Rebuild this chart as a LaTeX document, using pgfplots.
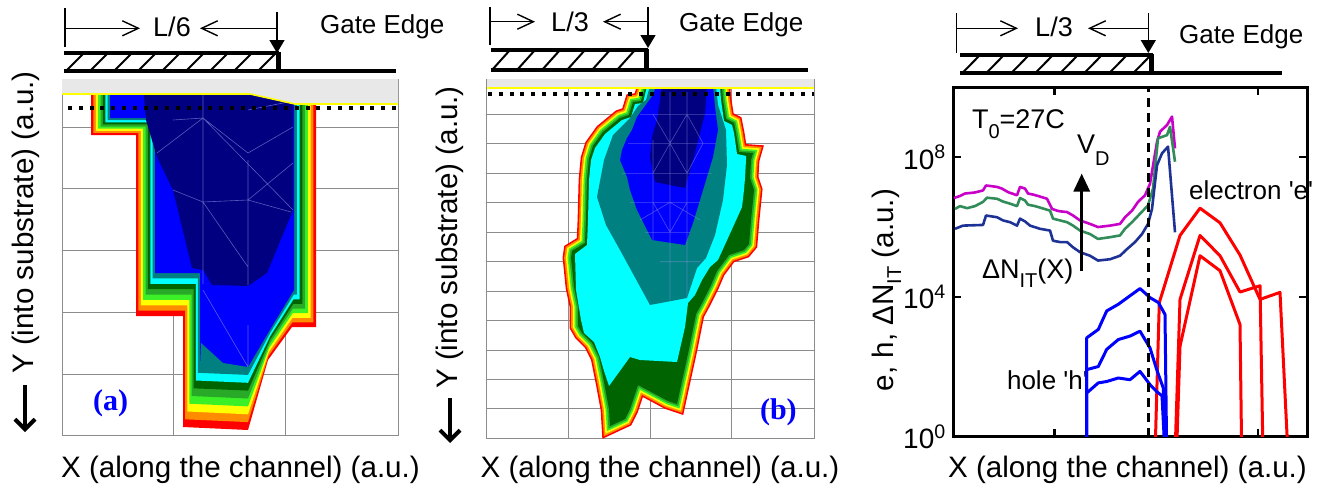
\documentclass[border=0pt]{standalone}
\usepackage{fontspec}
\setmainfont{Liberation Sans}
\newfontfamily\panelfont{Liberation Serif}
\usepackage{pgfplots}
\usepackage{pgfplotstable}
\pgfplotsset{compat=1.18}
\usetikzlibrary{arrows.meta}

\newcommand\fs[1]{\fontsize{#1}{#1}\selectfont}
\newcommand\lsub[2][5pt]{\raisebox{-#1}{\fs{10}#2}}

\definecolor{cRed}{RGB}{255,0,0}
\definecolor{cOrange}{RGB}{255,140,0}
\definecolor{cYellow}{RGB}{255,255,0}
\definecolor{cLime}{RGB}{60,240,40}
\definecolor{cGreen}{RGB}{40,170,40}
\definecolor{cDkGreen}{RGB}{0,100,0}
\definecolor{cCyan}{RGB}{0,255,255}
\definecolor{cTeal}{RGB}{0,128,128}
\definecolor{cBlue}{RGB}{0,0,255}
\definecolor{cNavy}{RGB}{0,0,128}
\definecolor{oxide}{RGB}{232,232,232}
\definecolor{gridc}{RGB}{140,140,140}
\definecolor{meshc}{RGB}{150,150,230}
\definecolor{nitM}{RGB}{200,0,200}
\definecolor{nitG}{RGB}{50,140,90}
\definecolor{nitB}{RGB}{30,50,150}
\definecolor{holeB}{RGB}{0,0,255}

% outer boundary of the dark-green level in panel (b)
\pgfplotstableread{
x y
645 88.5
641 101
633 102
629 115
620 118
603 132
593 146
589 159
587 180
586 220
585 243
572 251
571 258
572 267
574 287
578 306
578 326
582 333
592 343
599 357
604 382
609 409
610 426
625 419
630 409
638 385
655 394
668 401
677 404
682 381
689 349
696 314
702 303
711 285
717 271
729 255
744 250
749 244
751 220
754 190
750 178
751 160
753 153
739 152
736 133
734 123
726 119
723 100
722 88.5
}\levelQ

\begin{document}
\begin{tikzpicture}
\useasboundingbox (0,0) rectangle (660.5pt,243.5pt);
\begin{axis}[at={(0,0)}, anchor=south west, scale only axis,
  width=660.5pt, height=243.5pt, xmin=0, xmax=1321, ymin=0, ymax=487,
  y dir=reverse, hide axis, clip=false, no markers,
  every axis plot/.append style={line join=miter}]

% ---------------- panel (a): mesh frame
\addplot[gridc, line width=0.5pt] coordinates {(62,79)(62,435)(398,435)(398,79)};
\addplot[gridc, line width=0.5pt, unbounded coords=jump] coordinates {
 (62,127)(398,127) (nan,nan) (62,188)(398,188) (nan,nan) (62,250)(398,250)
 (nan,nan) (62,312)(398,312) (nan,nan) (62,374)(398,374)
 (nan,nan) (173,79)(173,435) (nan,nan) (285,79)(285,435)};

% ---------------- panel (a): contour levels, outermost first
\addplot[fill=cRed, draw=none] coordinates {(91,85)(91,135)(136,135)(136,316)(183,316)(183,427)(248,430)(268,360)(292,327)(316,327)(316,85)} --cycle;
\addplot[fill=cOrange, draw=none] coordinates {(93.4,85)(93.4,132.9)(138.4,132.9)(138.4,310.6)(185.1,310.6)(185.1,419.3)(248,422.1)(268.4,356)(292.3,322.4)(313.3,322.4)(313.3,85)} --cycle;
\addplot[fill=cYellow, draw=none] coordinates {(95.8,85)(95.8,130.8)(140.8,130.8)(140.8,305.3)(187.3,305.3)(187.3,411.5)(248,414.3)(268.8,352)(292.5,317.8)(310.5,317.8)(310.5,85)} --cycle;
\addplot[fill=cLime, draw=none] coordinates {(98.1,85)(98.1,128.6)(143.1,128.6)(143.1,299.9)(189.4,299.9)(189.4,403.7)(248,406.4)(269.1,348)(292.8,313.1)(307.8,313.1)(307.8,85)} --cycle;
\addplot[fill=cGreen, draw=none] coordinates {(100.5,85)(100.5,126.5)(145.5,126.5)(145.5,294.5)(191.5,294.5)(191.5,396)(248,398.5)(269.5,344)(293,308.5)(305,308.5)(305,85)} --cycle;
\addplot[fill=cDkGreen, draw=none] coordinates {(102.9,85)(102.9,124.4)(147.9,124.4)(147.9,289.1)(193.6,289.1)(193.6,388.3)(248,390.6)(269.9,340)(293.3,303.9)(302.3,303.9)(302.3,85)} --cycle;
\addplot[fill=cCyan, draw=none] coordinates {(105.3,85)(105.3,122.3)(150.3,122.3)(150.3,283.8)(195.8,283.8)(195.8,380.5)(248,382.8)(270.3,336)(293.5,299.3)(299.5,299.3)(299.5,85)} --cycle;
\addplot[fill=cTeal, draw=none] coordinates {(107.6,85)(107.6,120.1)(152.6,120.1)(152.6,278.4)(197.9,278.4)(197.9,372.8)(248,374.9)(270.6,332)(293.8,294.6)(296.8,294.6)(296.8,85)} --cycle;
\addplot[fill=cBlue, draw=none] coordinates {(110,85)(110,118)(155,118)(155,273)(200,273)(200,365)(248,367)(271,328)(294,290)(294,85)} --cycle;
\addplot[fill=cTeal, draw=none] coordinates {(201,343)(223,363)(248,367)(200,367)} --cycle;
\addplot[fill=cNavy, draw=none] coordinates {(143,85)(146,120)(157,157)(173,190)(192,268)(203,270)(212,285)(248,286)(267,273)(293,210)(293,85)} --cycle;
% simulation mesh showing through
\addplot[meshc, line width=0.3pt, opacity=0.6, unbounded coords=jump] coordinates {
 (203,95)(203,284) (nan,nan) (248,160)(248,285) (nan,nan) (248,325)(248,366) (nan,nan)
 (157,153)(203,118)(248,153)(293,127) (nan,nan) (173,190)(203,202)(248,200)(293,163) (nan,nan)
 (203,202)(248,267) (nan,nan) (248,200)(291,212) (nan,nan) (203,118)(293,210) (nan,nan)
 (248,110)(293,101) (nan,nan) (203,290)(248,367) (nan,nan) (173,120)(203,118)};

% oxide layer, interface and channel depth marker
\addplot[fill=oxide, draw=none] coordinates {(62,79)(398,79)(398,104)(295,104)(250,94)(62,94)} --cycle;
\addplot[cYellow, line width=0.8pt] coordinates {(62,94)(250,94)(295,104)(398,104)};
\addplot[black, line width=2pt, dash pattern=on 2pt off 3.4pt] coordinates {(68,108)(400,108)};

% ---------------- panel (b): mesh frame
\addplot[gridc, line width=0.5pt] coordinates {(486.7,79)(486.7,438)(814,438)(814,79)};
\addplot[gridc, line width=0.5pt, unbounded coords=jump] coordinates {
 (486.7,114.3)(814,114.3) (nan,nan) (486.7,143.3)(814,143.3) (nan,nan)
 (486.7,173.3)(814,173.3) (nan,nan) (486.7,202.3)(814,202.3) (nan,nan)
 (486.7,232.3)(814,232.3) (nan,nan) (486.7,261.7)(814,261.7) (nan,nan)
 (486.7,291)(814,291) (nan,nan) (486.7,320.7)(814,320.7) (nan,nan)
 (486.7,350)(814,350) (nan,nan) (486.7,379.3)(814,379.3) (nan,nan)
 (486.7,408.7)(814,408.7) (nan,nan)
 (568.3,79)(568.3,438) (nan,nan) (650,79)(650,438) (nan,nan) (731.7,79)(731.7,438)};

% ---------------- panel (b): thin outer levels as nested outlines
\addplot[draw=cRed, line width=8.4pt] table {\levelQ} --cycle;
\addplot[draw=cOrange, line width=6.8pt] table {\levelQ} --cycle;
\addplot[draw=cYellow, line width=5.1pt] table {\levelQ} --cycle;
\addplot[draw=cLime, line width=3.4pt] table {\levelQ} --cycle;
\addplot[draw=cGreen, line width=1.7pt] table {\levelQ} --cycle;
\addplot[fill=cDkGreen, draw=none] table {\levelQ} --cycle;
% inner levels
\addplot[fill=cCyan, draw=none] coordinates {(647,86)(643,103)(635,104)(631,117)(622,120)(605,134)(595,148)(591,160)(589,180)(588,220)(587,245)(575,254)(576,290)(581,320)(584,333)(594,342)(600,357)(604,371)(609,386)(630,357)(640,360)(677,362)(685,327)(688,303)(695,295)(702,280)(710,267)(718,260)(733,227)(742,207)(744,190)(745,178)(746,160)(746,156)(737,154)(734,133)(732,125)(724,121)(721,100)(720,86)} --cycle;
\addplot[fill=cTeal, draw=none] coordinates {(650,86)(646,100)(638,106)(630,118)(613,135)(604,160)(597,197)(606,225)(620,250)(650,305)(687,298)(697,268)(706,258)(715,235)(723,200)(727,165)(726,130)(718,105)(716,86)} --cycle;
\addplot[fill=cBlue, draw=none] coordinates {(656,86)(653,95)(645,106)(637,117)(632,130)(627,138)(622,150)(620,160)(627,177)(630,190)(637,210)(652,240)(685,245)(693,223)(703,190)(713,157)(718,130)(715,107)(713,86)} --cycle;
\addplot[fill=cNavy, draw=none] coordinates {(662,86)(660,100)(657,120)(652,137)(650,157)(655,182)(685,188)(693,160)(700,133)(705,113)(707,86)} --cycle;
% simulation mesh showing through
\addplot[meshc, line width=0.3pt, opacity=0.5, unbounded coords=jump] coordinates {
 (670,92)(670,300) (nan,nan) (687,92)(687,298) (nan,nan) (653,140)(653,240) (nan,nan)
 (640,114.3)(716,114.3) (nan,nan) (628,143.3)(716,143.3) (nan,nan) (622,173.3)(712,173.3) (nan,nan)
 (630,202.3)(700,202.3) (nan,nan) (645,232.3)(690,232.3) (nan,nan) (660,261.7)(700,261.7) (nan,nan)
 (653,114.3)(670,143.3)(687,114.3)(703,143.3) (nan,nan) (653,173.3)(670,143.3)(687,173.3)(703,143.3)
 (nan,nan) (653,202.3)(670,232.3)(687,202.3) (nan,nan) (640,220)(670,202.3)(700,220)};

\addplot[fill=oxide, draw=none] coordinates {(486.7,79)(814,79)(814,88)(486.7,88)} --cycle;
\addplot[cYellow, line width=0.8pt] coordinates {(486.7,88)(814,88)};
\addplot[black, line width=2pt, dash pattern=on 2pt off 3.4pt] coordinates {(488,94)(814,94)};

% ---------------- gate schematics
% (a)
\addplot[black, line width=2pt] coordinates {(64,53)(279,53)};
\addplot[black, line width=2pt] coordinates {(64,71)(396,71)};
\addplot[black, line width=2.5pt] coordinates {(278,52)(278,71)};
\addplot[black, line width=1pt, unbounded coords=jump] coordinates {
 (66,71)(84,53) (nan,nan) (90,71)(108,53) (nan,nan) (114,71)(132,53) (nan,nan)
 (138,71)(156,53) (nan,nan) (162,71)(180,53) (nan,nan) (186,71)(204,53) (nan,nan)
 (210,71)(228,53) (nan,nan) (234,71)(252,53) (nan,nan) (258,71)(276,53)};
\addplot[black, line width=0.7pt] coordinates {(65,8)(65,47)};
\addplot[black, line width=0.7pt, -{Straight Barb[length=8pt,width=7.5pt]}] coordinates {(65,28.3)(140,28.3)};
\addplot[black, line width=0.7pt, -{Straight Barb[length=8pt,width=7.5pt]}] coordinates {(277,28.3)(200,28.3)};
\addplot[black, line width=0.7pt, -{Triangle[length=6.5pt,width=7.5pt]}] coordinates {(277,12)(277,53)};
% (b)
\addplot[black, line width=2pt] coordinates {(490.7,50)(647.7,50)};
\addplot[black, line width=2pt] coordinates {(490.7,70)(807.7,70)};
\addplot[black, line width=2.5pt] coordinates {(646.7,49)(646.7,70)};
\addplot[black, line width=1pt, unbounded coords=jump] coordinates {
 (492,70)(510,50) (nan,nan) (517,70)(535,50) (nan,nan) (542,70)(560,50) (nan,nan)
 (567,70)(585,50) (nan,nan) (592,70)(610,50) (nan,nan) (617,70)(635,50)};
\addplot[black, line width=0.7pt] coordinates {(490,7)(490,45)};
\addplot[black, line width=0.7pt, -{Straight Barb[length=8pt,width=7.5pt]}] coordinates {(490,21.7)(535,21.7)};
\addplot[black, line width=0.7pt, -{Straight Barb[length=8pt,width=7.5pt]}] coordinates {(648,21.7)(603,21.7)};
\addplot[black, line width=0.7pt, -{Triangle[length=6.5pt,width=7.5pt]}] coordinates {(648,7)(648,48)};
% (c)
\addplot[black, line width=2pt] coordinates {(960,55)(1152.7,55)};
\addplot[black, line width=2pt] coordinates {(960,73.3)(1281.7,73.3)};
\addplot[black, line width=2.5pt] coordinates {(1151.7,54)(1151.7,73.3)};
\addplot[black, line width=1pt, unbounded coords=jump] coordinates {
 (962,73.3)(980,55) (nan,nan) (986,73.3)(1004,55) (nan,nan) (1011,73.3)(1029,55) (nan,nan)
 (1035,73.3)(1053,55) (nan,nan) (1060,73.3)(1078,55) (nan,nan) (1084,73.3)(1102,55) (nan,nan)
 (1109,73.3)(1127,55) (nan,nan) (1133,73.3)(1151,55)};
\addplot[black, line width=0.7pt] coordinates {(956.7,13)(956.7,53)};
\addplot[black, line width=0.7pt, -{Straight Barb[length=8pt,width=7.5pt]}] coordinates {(957,28.3)(1018,28.3)};
\addplot[black, line width=0.7pt, -{Straight Barb[length=8pt,width=7.5pt]}] coordinates {(1148,28.3)(1088,28.3)};
\addplot[black, line width=0.7pt, -{Triangle[length=6.5pt,width=7.5pt]}] coordinates {(1148.3,13)(1148.3,53)};

% depth arrows
\addplot[black, line width=2pt, -{Straight Barb[length=5pt,width=10pt]}] coordinates {(25,385)(25,432)};
\addplot[black, line width=2pt, -{Straight Barb[length=5pt,width=10pt]}] coordinates {(450,398)(450,443)};

% ---------------- text
\node[anchor=base, font=\fs{13.5}] at (axis cs:172,36.7) {L/6};
\node[anchor=base west, font=\fs{13}] at (axis cs:313,33) {Gate Edge};
\node[anchor=base, font=\fs{13.5}] at (axis cs:570,31.7) {L/3};
\node[anchor=base west, font=\fs{13}] at (axis cs:672,31.7) {Gate Edge};
\node[anchor=base, font=\fs{13.5}] at (axis cs:1054,36.7) {L/3};
\node[anchor=base west, font=\fs{13}] at (axis cs:1172,43.3) {Gate Edge};

\node[anchor=base, font=\fs{14.8}] at (axis cs:240.5,477) {X (along the channel) (a.u.)};
\node[anchor=base, font=\fs{14.8}] at (axis cs:660,477) {X (along the channel) (a.u.)};
\node[anchor=base, font=\fs{14.8}] at (axis cs:1127.5,477) {X (along the channel) (a.u.)};
\node[anchor=base, rotate=90, font=\fs{14.8}] at (axis cs:33,222.5) {Y (into substrate) (a.u.)};
\node[anchor=base, rotate=90, font=\fs{14.8}] at (axis cs:457,237.5) {Y (into substrate) (a.u.)};
\node[anchor=base, rotate=90, font=\fs{14.8}] at (axis cs:893,290) {e, h, ΔN\lsub[4pt]{IT} (a.u.)};

\node[anchor=base west, font=\panelfont\bfseries\fs{15}, text=cBlue] at (axis cs:86,410) {(a)};
\node[anchor=base west, font=\panelfont\bfseries\fs{15}, text=cBlue] at (axis cs:753,419) {(b)};

\node[anchor=base west, font=\fs{13.5}] at (axis cs:965,128) {T\lsub{0}=27C};
\node[anchor=base west, font=\fs{13.5}] at (axis cs:1070,153) {V\lsub[6pt]{D}};
\node[anchor=base west, font=\fs{13.5}] at (axis cs:975,278) {ΔN\lsub[4.5pt]{IT}(X)};
\node[anchor=base west, font=\fs{13}] at (axis cs:1182,199) {electron \textquotesingle e\textquotesingle};
\node[anchor=base west, font=\fs{13}] at (axis cs:1000,389) {hole \textquotesingle h\textquotesingle};
\end{axis}

% ---------------- panel (c): carrier and interface-trap profiles
\begin{axis}[at={(476.65pt,25.15pt)}, anchor=south west, scale only axis,
  width=177pt, height=174.7pt, ymode=log,
  xmin=953.3, xmax=1307.3, ymin=1, ymax=1e10,
  xtick={1054.3,1257.7}, xticklabels={},
  ytick={1,1e4,1e8},
  yticklabels={10\textsuperscript{0},10\textsuperscript{4},10\textsuperscript{8}},
  yminorticks=false, tick align=inside, major tick length=4pt,
  axis line style={line width=1.5pt},
  every tick/.style={black, line width=1.2pt},
  yticklabel style={font=\fs{14}},
  no markers, every axis plot/.append style={line join=round}]

% interface traps for increasing drain bias
\addplot[nitM, line width=1.3pt] coordinates {
(954,6.76e6)(960,7.76e6)(965,9.12e6)(975,9.77e6)(983,1.12e7)(986,1.55e7)(997,1.41e7)
(1002,1.26e7)(1008,1.00e7)(1017,8.13e6)(1020,1.41e7)(1025,1.26e7)(1028,9.12e6)
(1033,8.51e6)(1038,7.76e6)(1047,6.46e6)(1052,3.31e6)(1057,2.95e6)(1060,2.82e6)
(1067,2.69e6)(1073,2.14e6)(1080,1.55e6)(1090,1.23e6)(1098,1.00e6)(1110,1.10e6)
(1120,1.23e6)(1125,1.91e6)(1132,2.95e6)(1138,5.25e6)(1145,8.13e6)(1150,1.74e7)
(1157,2.75e8)(1160,5.37e8)(1167,8.32e8)(1172,1.45e9)(1175,1.78e8)};
\addplot[nitG, line width=1.3pt] coordinates {
(955,3.31e6)(960,3.98e6)(967,3.47e6)(975,3.98e6)(983,5.25e6)(987,6.92e6)(997,6.46e6)
(1003,5.37e6)(1010,4.68e6)(1017,3.98e6)(1020,6.76e6)(1025,5.75e6)(1028,4.37e6)
(1035,3.98e6)(1042,3.47e6)(1050,2.95e6)(1053,1.74e6)(1060,1.55e6)(1067,1.38e6)
(1073,1.10e6)(1080,7.94e5)(1090,6.31e5)(1098,4.57e5)(1110,5.13e5)(1120,5.75e5)
(1125,8.91e5)(1132,1.38e6)(1140,2.40e6)(1148,4.17e6)(1153,1.26e7)(1158,3.47e8)
(1167,4.27e8)(1170,7.41e8)(1175,7.41e7)};
\addplot[nitB, line width=1.3pt] coordinates {
(955,8.91e5)(963,1.10e6)(983,1.15e6)(986,2.14e6)(997,1.91e6)(1003,1.55e6)(1010,1.38e6)
(1017,1.10e6)(1020,1.74e6)(1025,1.45e6)(1030,1.10e6)(1040,8.91e5)(1050,7.94e5)
(1053,4.07e5)(1060,3.72e5)(1067,3.72e5)(1073,2.63e5)(1080,1.91e5)(1090,1.51e5)
(1098,1.10e5)(1110,1.20e5)(1120,1.51e5)(1127,2.34e5)(1135,3.72e5)(1142,6.31e5)
(1148,1.23e6)(1152,3.31e6)(1157,5.89e7)(1162,1.29e8)(1168,2.00e8)(1175,7.08e5)};

% electrons
\addplot[cRed, line width=1.5pt] coordinates {
(1155,0.3)(1159.3,6.92e3)(1180,5.75e5)(1200,3.47e6)(1220,1.32e6)(1240,1.58e5)
(1260,8.51e3)(1280,1.35e4)(1288,0.3)};
\addplot[cRed, line width=1.5pt] coordinates {
(1175,0.3)(1180,8.51e3)(1200,5.75e5)(1220,1.51e5)(1240,1.38e4)(1260,2.09e4)(1263,0.3)};
\addplot[cRed, line width=1.5pt] coordinates {
(1176.5,0.3)(1180,389)(1200,1.51e5)(1220,5.62e4)(1240,1.62e3)(1241.7,0.3)};

% holes
\addplot[holeB, line width=1.5pt] coordinates {
(1086.7,0.3)(1086.7,676)(1098.3,1175)(1106.7,3980)(1118.3,6170)(1140,1.74e4)
(1150,9550)(1158.3,6920)(1165,3160)(1166.7,0.3)};
\addplot[holeB, line width=1.5pt] coordinates {
(1086.7,0.3)(1086.7,83.2)(1098.3,102)(1106.7,316)(1118.3,603)(1130,759)(1140,1047)
(1150,347)(1156.7,83.2)(1163.3,24.5)(1165,0.3)};
\addplot[holeB, line width=1.5pt] coordinates {
(1086.7,0.3)(1086.7,17.8)(1098.3,34.7)(1106.7,38)(1118.3,47.9)(1130,42.7)(1140,74.1)
(1150,30.9)(1156.7,19.5)(1162,14.8)(1165,0.3)};

% gate edge position
\addplot[black, line width=1.5pt, dash pattern=on 4.5pt off 3pt] coordinates {(1148.5,1)(1148.5,1e10)};
% direction of increasing drain bias
\addplot[black, line width=1.5pt, -{Triangle[length=9pt,width=8pt]}] coordinates {(1081.7,5.5e4)(1081.7,3.4e7)};
\end{axis}
\end{tikzpicture}
\end{document}
